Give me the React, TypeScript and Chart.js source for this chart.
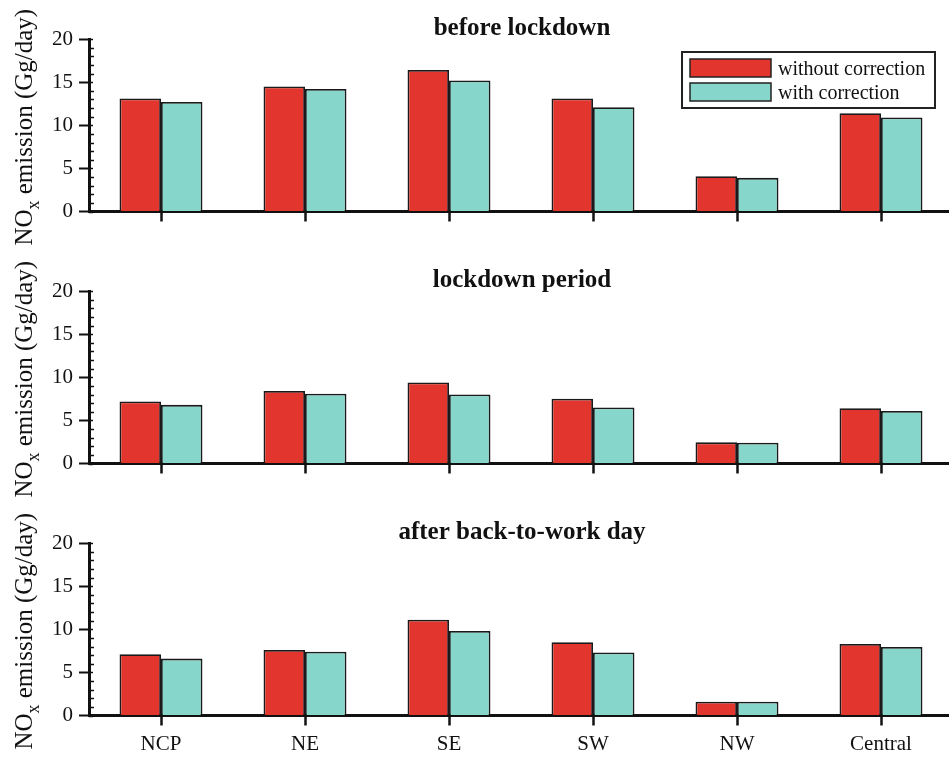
import React, { useEffect, useRef } from "react";
import { Chart, registerables } from "chart.js";
Chart.register(...registerables);

const categories = ["NCP", "NE", "SE", "SW", "NW", "Central"];
const seriesLabels = ["without correction", "with correction"];
const panelTitles = ["before lockdown", "lockdown period", "after back-to-work day"];
const beforeWithout = [13.1, 14.5, 16.4, 13.1, 4.1, 11.4];
const beforeWith = [12.7, 14.2, 15.2, 12.1, 3.9, 10.9];
const lockWithout = [7.2, 8.4, 9.4, 7.5, 2.45, 6.4];
const lockWith = [6.8, 8.1, 8.0, 6.5, 2.4, 6.1];
const afterWithout = [7.1, 7.6, 11.1, 8.5, 1.6, 8.3];
const afterWith = [6.6, 7.4, 9.8, 7.3, 1.6, 7.95];
const yTicks = [0, 5, 10, 15, 20];
const yMinorTicks = [1, 2, 3, 4, 6, 7, 8, 9, 11, 12, 13, 14, 16, 17, 18, 19];

const RED = "#E2352D";
const TEAL = "#87D6CC";
const FONT = "'Liberation Serif', 'Times New Roman', serif";

type PanelProps = {
  title: string;
  a: number[];
  b: number[];
  legend: boolean;
  xLabels: boolean;
  top: number;
  height: number;
};

function Panel({ title, a, b, legend, xLabels, top, height }: PanelProps) {
  const ref = useRef<HTMLCanvasElement | null>(null);
  useEffect(() => {
    const canvas = ref.current!;
    const deco = {
      id: "deco",
      afterDraw(chart: any) {
        const ctx = chart.ctx as CanvasRenderingContext2D;
        const area = chart.chartArea;
        const ys = chart.scales.y;
        ctx.save();
        // minor ticks
        ctx.strokeStyle = "#111";
        ctx.lineWidth = 1.5;
        yMinorTicks.forEach((v) => {
          const py = Math.round(ys.getPixelForValue(v)) + 0.5;
          ctx.beginPath();
          ctx.moveTo(area.left, py);
          ctx.lineTo(area.left + 5, py);
          ctx.stroke();
        });
        yTicks.forEach((v) => {
          const py = Math.round(ys.getPixelForValue(v)) + 0.5;
          ctx.beginPath();
          ctx.moveTo(area.left, py);
          ctx.lineTo(area.left + 4, py);
          ctx.stroke();
        });
        // title
        ctx.fillStyle = "#111";
        ctx.font = `bold 25px ${FONT}`;
        ctx.textAlign = "center";
        ctx.textBaseline = "alphabetic";
        ctx.fillText(title, 522, area.top - 4);
        // y label
        const mainFont = `25px ${FONT}`;
        const subFont = `18px ${FONT}`;
        ctx.font = mainFont;
        const w1 = ctx.measureText("NO").width;
        const w3 = ctx.measureText(" emission (Gg/day)").width;
        ctx.font = subFont;
        const w2 = ctx.measureText("x").width;
        const total = w1 + w2 + w3;
        const cy = (area.top + area.bottom) / 2 + 2;
        ctx.translate(32, cy);
        ctx.rotate(-Math.PI / 2);
        ctx.textAlign = "left";
        let x0 = -total / 2;
        ctx.font = mainFont;
        ctx.fillText("NO", x0, 0);
        x0 += w1;
        ctx.font = subFont;
        ctx.fillText("x", x0, 7);
        x0 += w2;
        ctx.font = mainFont;
        ctx.fillText(" emission (Gg/day)", x0, 0);
        ctx.restore();
        // legend
        if (legend) {
          ctx.save();
          ctx.fillStyle = "#fff";
          ctx.fillRect(682, 52, 253, 56);
          ctx.strokeStyle = "#222";
          ctx.lineWidth = 2;
          ctx.strokeRect(682, 52, 253, 56);
          const ds = chart.data.datasets;
          ds.forEach((d: any, i: number) => {
            const sy = 59 + i * 24;
            ctx.fillStyle = d.backgroundColor;
            ctx.fillRect(690, sy, 81, 18);
            ctx.strokeStyle = "#222";
            ctx.lineWidth = 1.5;
            ctx.strokeRect(690, sy, 81, 18);
            ctx.fillStyle = "#111";
            ctx.font = `20px ${FONT}`;
            ctx.textAlign = "left";
            ctx.textBaseline = "alphabetic";
            ctx.fillText(d.label, 778, sy + 16);
          });
          ctx.restore();
        }
      },
    };
    const chart = new Chart(canvas, {
      type: "bar",
      data: {
        labels: categories,
        datasets: [
          { label: seriesLabels[0], data: a, backgroundColor: RED, borderColor: "#1a1a1a", borderWidth: 1.8 },
          { label: seriesLabels[1], data: b, backgroundColor: TEAL, borderColor: "#1a1a1a", borderWidth: 1.8 },
        ],
      },
      options: {
        responsive: false,
        animation: false,
        layout: { padding: { top: 39, right: 2, left: 0, bottom: 0 } },
        datasets: { bar: { categoryPercentage: 0.576, barPercentage: 1 } },
        plugins: { legend: { display: false }, tooltip: { enabled: false }, title: { display: false } },
        scales: {
          x: {
            offset: true,
            grid: { display: true, drawOnChartArea: false, offset: false, tickLength: 10, tickColor: "#111", tickWidth: 2.5 },
            border: { display: true, color: "#111", width: 3 },
            ticks: {
              display: xLabels,
              color: "#111",
              font: { family: FONT, size: 21 },
              padding: 6,
              maxRotation: 0,
              autoSkip: false,
            },
            afterFit: (s: any) => {
              s.height = height - 211.5 - 0;
            },
          },
          y: {
            min: 0,
            max: 20,
            afterBuildTicks: (s: any) => {
              s.ticks = yTicks.map((v) => ({ value: v }));
            },
            grid: { display: true, drawOnChartArea: false, tickLength: 10, tickColor: "#111", tickWidth: 2 },
            border: { display: true, color: "#111", width: 3 },
            ticks: { color: "#111", font: { family: FONT, size: 21 }, padding: 6 },
            afterFit: (s: any) => {
              s.width = 89;
            },
          },
        },
      },
      plugins: [deco],
    });
    return () => chart.destroy();
  }, []);
  return (
    <div style={{ position: "absolute", left: 0, top, width: 955, height }}>
      <canvas ref={ref} width={955} height={height} style={{ display: "block" }} />
    </div>
  );
}

export default function App() {
  return (
    <div style={{ position: "absolute", left: 0, top: 0, width: 949, height: 758, overflow: "hidden", background: "#fff" }}>
      <Panel title={panelTitles[0]} a={beforeWithout} b={beforeWith} legend={true} xLabels={false} top={0} height={252} />
      <Panel title={panelTitles[1]} a={lockWithout} b={lockWith} legend={false} xLabels={false} top={252} height={252} />
      <Panel title={panelTitles[2]} a={afterWithout} b={afterWith} legend={false} xLabels={true} top={504} height={254} />
    </div>
  );
}
